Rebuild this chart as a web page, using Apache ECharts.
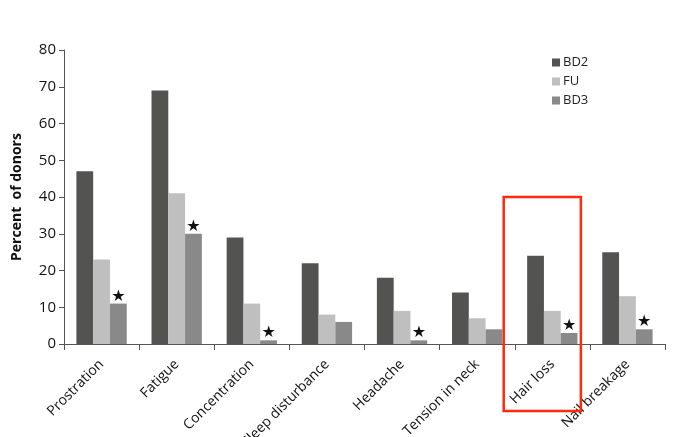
<!DOCTYPE html>
<html>
<head>
<meta charset="utf-8">
<script src="https://cdn.jsdelivr.net/npm/echarts@6/dist/echarts.min.js"></script>
<style>html,body{margin:0;padding:0;background:#fff;}#c{width:676px;height:437px;}</style>
</head>
<body>
<div id="c"></div>
<script>
const categories = ['Prostration','Fatigue','Concentration','Sleep disturbance','Headache','Tension in neck','Hair loss','Nail breakage'];
const bd2 = [47, 69, 29, 22, 18, 14, 24, 25];
const fu = [23, 41, 11, 8, 9, 7, 9, 13];
const bd3 = [11, 30, 1, 6, 1, 4, 3, 4];
const significant = [1, 1, 1, 0, 1, 0, 1, 1];
const yTicks = [0, 10, 20, 30, 40, 50, 60, 70, 80];

const chart = echarts.init(document.getElementById('c'));
const font = 'Open Sans, Liberation Sans, sans-serif';
const bd3Data = bd3.map((v, i) => ({
  value: v,
  label: { show: !!significant[i] }
}));
chart.setOption({
  animation: false,
  backgroundColor: '#fff',
  textStyle: { fontFamily: font },
  grid: { left: 64, right: 11, top: 50, bottom: 93, containLabel: false, outerBoundsMode: 'none' },
  legend: {
    orient: 'vertical',
    left: 547, top: 51,
    itemWidth: 8, itemHeight: 8, itemGap: 6,
    icon: 'rect',
    textStyle: { fontSize: 13, color: '#222', fontFamily: font, padding: [0, 0, 0, -2] },
    data: ['BD2', 'FU', 'BD3']
  },
  xAxis: {
    type: 'category',
    data: categories,
    axisLine: { lineStyle: { color: '#555', width: 1 } },
    axisTick: { show: true, length: 6, lineStyle: { color: '#555' } },
    axisLabel: { rotate: 45, margin: 18, fontSize: 14, color: '#111', fontFamily: font, interval: 0 }
  },
  yAxis: {
    type: 'value',
    min: 0, max: 80, interval: 10,
    name: 'Percent  of donors',
    nameLocation: 'middle',
    nameGap: 40,
    nameTextStyle: { fontSize: 14, fontWeight: 'bold', color: '#111', fontFamily: font },
    splitLine: { show: false },
    axisLine: { show: true, lineStyle: { color: '#555' } },
    axisTick: { show: true, length: 5, lineStyle: { color: '#555' } },
    axisLabel: { fontSize: 15, color: '#111', margin: 8, fontFamily: font,
      formatter: v => yTicks.includes(v) ? String(v) : '' }
  },
  series: [
    { name: 'BD2', type: 'bar', data: bd2, barGap: '0%', barCategoryGap: '33%', itemStyle: { color: '#535451' } },
    { name: 'FU', type: 'bar', data: fu, itemStyle: { color: '#bfbfbf' } },
    { name: 'BD3', type: 'bar', data: bd3Data, itemStyle: { color: '#898989' },
      label: { show: false, position: 'top', distance: -1, formatter: '★', fontSize: 16, color: '#111', fontFamily: 'DejaVu Sans' } }
  ]
});

// red highlight box around the "Hair loss" group
const hairIdx = categories.indexOf('Hair loss');
const c0 = chart.convertToPixel({ xAxisIndex: 0 }, categories[hairIdx]);
const c1 = chart.convertToPixel({ xAxisIndex: 0 }, categories[hairIdx + 1]);
const bw = c1 - c0;
const yTop = chart.convertToPixel({ yAxisIndex: 0 }, 40);
const yZero = chart.convertToPixel({ yAxisIndex: 0 }, 0);
chart.setOption({
  graphic: [{
    type: 'rect',
    shape: { x: c0 - 0.647 * bw, y: yTop, width: 1.027 * bw, height: (yZero - yTop) + 67 },
    style: { fill: 'none', stroke: '#ff2a0a', lineWidth: 2.5 },
    z: 100
  }]
});
</script>
</body>
</html>
